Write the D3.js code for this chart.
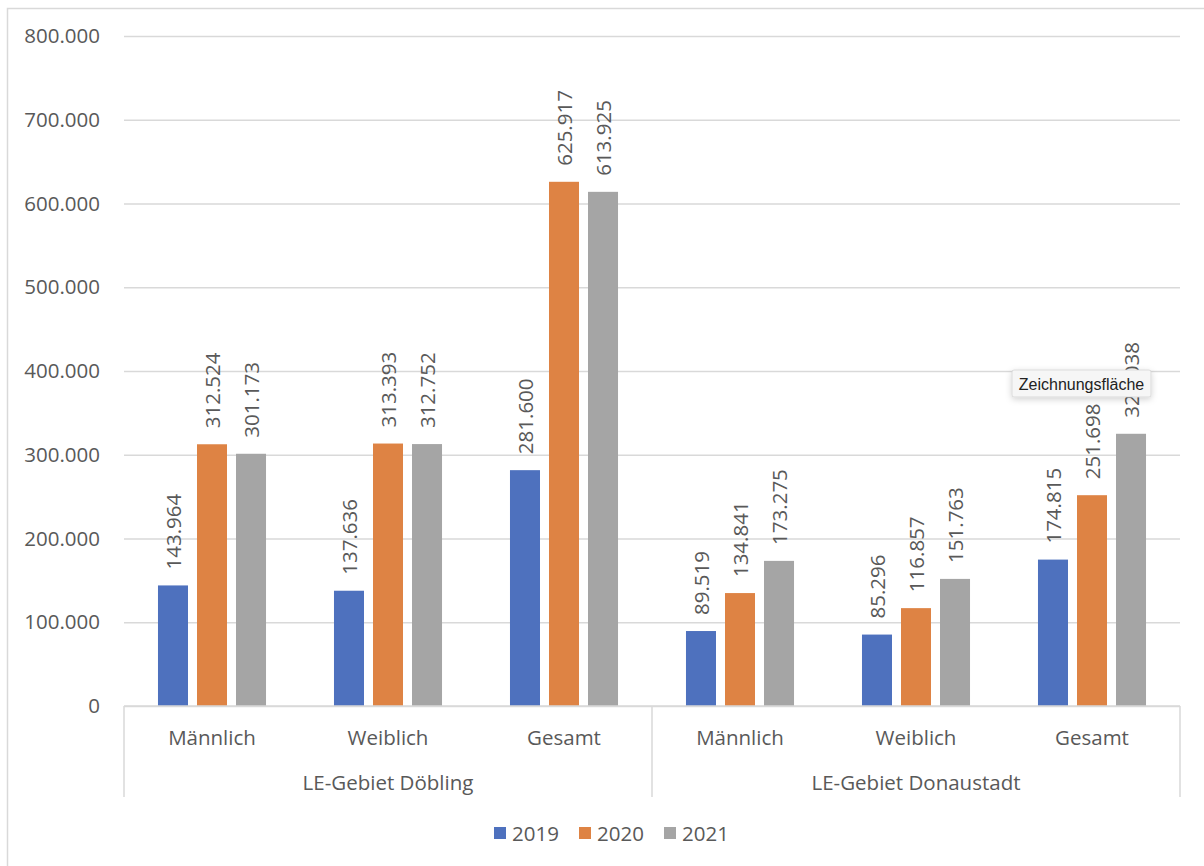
<!DOCTYPE html>
<html>
<head>
<meta charset="utf-8">
<script src="https://cdn.jsdelivr.net/npm/d3@7"></script>
<style>
  body { margin: 0; background: #fff; }
  text { font-family: "Open Sans", sans-serif; fill: #595959; }
</style>
</head>
<body>
<script>
// data
const categories = ['Männlich', 'Weiblich', 'Gesamt', 'Männlich', 'Weiblich', 'Gesamt'];
const groups = ['LE-Gebiet Döbling', 'LE-Gebiet Donaustadt'];
const years = ['2019', '2020', '2021'];
const values2019 = [143964, 137636, 281600, 89519, 85296, 174815];
const values2020 = [312524, 313393, 625917, 134841, 116857, 251698];
const values2021 = [301173, 312752, 613925, 173275, 151763, 325038];
const yTicks = [0, 100000, 200000, 300000, 400000, 500000, 600000, 700000, 800000];
const colors = ['#4E71BE', '#DE8344', '#A5A5A5'];

const series = [values2019, values2020, values2021];
const fs = 20.5;

const margin = { top: 36, left: 124, right: 24, bottom: 160 };
const W = 1204, H = 866;
const width = W - margin.left - margin.right;
const height = H - margin.top - margin.bottom;

const de = d3.formatLocale({ decimal: ',', thousands: '.', grouping: [3], currency: ['€', ''] });
const fmt = de.format(',d');

const svg = d3.select('body').append('svg')
    .attr('width', W)
    .attr('height', H);

// outer chart frame
svg.append('rect')
    .attr('x', 7.5).attr('y', 8.5)
    .attr('width', W).attr('height', H)
    .attr('fill', 'none')
    .attr('stroke', '#d9d9d9')
    .attr('stroke-width', 1.5);

const g = svg.append('g').attr('transform', `translate(${margin.left}, ${margin.top})`);

const y = d3.scaleLinear().domain([0, 800000]).range([height, 0]);
const x0 = d3.scaleBand().domain(d3.range(categories.length)).range([0, width])
    .paddingInner(0.335).paddingOuter(0.1675);
const x1 = d3.scaleBand().domain(years).range([0, x0.bandwidth()])
    .paddingInner(0.2308).paddingOuter(0.1154);

// y axis + gridlines
const yaxis = d3.axisLeft(y).tickValues(yTicks).tickFormat(fmt)
    .tickSize(-width).tickPadding(24);
const gy = g.append('g').attr('class', 'y axis').call(yaxis);
gy.select('.domain').remove();
gy.selectAll('line').attr('stroke', '#d9d9d9').attr('stroke-width', 1.5);
gy.selectAll('text').attr('font-size', fs).attr('font-family', '"Open Sans", sans-serif')
    .attr('fill', '#595959');

// bars
const rows = categories.map((c, i) => ({ i, vals: years.map((yr, k) => ({ yr, k, v: series[k][i] })) }));

const cat = g.selectAll('.cat').data(rows).join('g')
    .attr('class', 'cat')
    .attr('transform', (d) => `translate(${x0(d.i)}, 0)`);

cat.selectAll('rect').data((d) => d.vals).join('rect')
    .attr('x', (d) => x1(d.yr))
    .attr('y', (d) => y(d.v))
    .attr('width', x1.bandwidth())
    .attr('height', (d) => height - y(d.v))
    .attr('fill', (d) => colors[d.k]);

// data labels
cat.selectAll('text.lbl').data((d) => d.vals).join('text')
    .attr('class', 'lbl')
    .attr('transform', (d) => `translate(${x1(d.yr) + x1.bandwidth() / 2}, ${y(d.v) - 16}) rotate(-90)`)
    .attr('text-anchor', 'start')
    .attr('dominant-baseline', 'central')
    .attr('font-size', fs)
    .text((d) => fmt(d.v));

// category axis
const gx = g.append('g').attr('transform', `translate(0, ${height})`);
gx.append('line').attr('x1', 0).attr('x2', width).attr('y1', 0).attr('y2', 0)
    .attr('stroke', '#d9d9d9').attr('stroke-width', 1.5);
[0, 3, 6].forEach((n) => {
    const xx = n * x0.step();
    gx.append('line').attr('x1', xx).attr('x2', xx).attr('y1', 0).attr('y2', 91)
        .attr('stroke', '#d9d9d9').attr('stroke-width', 1.5);
});
gx.selectAll('text.catlbl').data(categories).join('text')
    .attr('class', 'catlbl')
    .attr('x', (d, i) => x0(i) + x0.bandwidth() / 2)
    .attr('y', 31)
    .attr('text-anchor', 'middle')
    .attr('dominant-baseline', 'central')
    .attr('font-size', fs)
    .text((d) => d);
gx.selectAll('text.grplbl').data(groups).join('text')
    .attr('class', 'grplbl')
    .attr('x', (d, i) => (i * 3 + 1.5) * x0.step())
    .attr('y', 76)
    .attr('text-anchor', 'middle')
    .attr('dominant-baseline', 'central')
    .attr('font-size', fs)
    .text((d) => d);

// legend
const legend = svg.append('g').attr('transform', 'translate(494, 833)');
const item = legend.selectAll('g').data(years).join('g')
    .attr('transform', (d, i) => `translate(${i * 85}, 0)`);
item.append('rect').attr('x', 0).attr('y', -6).attr('width', 12).attr('height', 12)
    .attr('fill', (d, i) => colors[i]);
item.append('text').attr('x', 18).attr('y', 0)
    .attr('dominant-baseline', 'central')
    .attr('font-size', fs)
    .text((d) => d);

// hover tooltip shown in the screenshot
const defs = svg.append('defs');
const f = defs.append('filter').attr('id', 'shadow').attr('x', '-20%').attr('y', '-50%')
    .attr('width', '140%').attr('height', '220%');
f.append('feDropShadow').attr('dx', 0).attr('dy', 2).attr('stdDeviation', 3)
    .attr('flood-color', '#000').attr('flood-opacity', 0.18);
const tip = svg.append('g').attr('transform', 'translate(1012, 370)');
tip.append('rect').attr('width', 139).attr('height', 27).attr('rx', 2)
    .attr('fill', '#f6f6f6').attr('stroke', '#d0d0d0').attr('stroke-width', 0.7)
    .attr('filter', 'url(#shadow)');
tip.append('text').attr('x', 69.5).attr('y', 14)
    .attr('text-anchor', 'middle').attr('dominant-baseline', 'central')
    .attr('font-size', 16)
    .style('font-family', '"Liberation Sans", Arial, sans-serif')
    .style('fill', '#222')
    .text('Zeichnungsfläche');
</script>
</body>
</html>
